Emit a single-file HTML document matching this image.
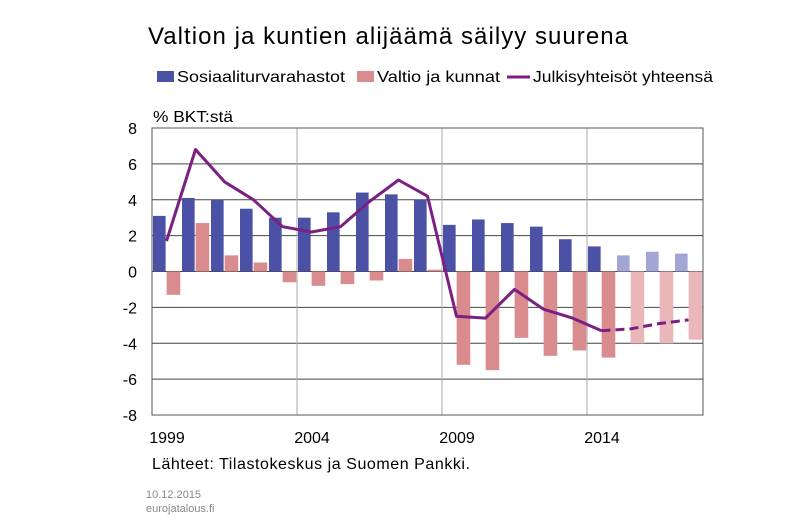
<!DOCTYPE html>
<html><head><meta charset="utf-8"><style>
body{margin:0;background:#fff;font-family:"Liberation Sans",sans-serif}
svg{display:block}
</style></head><body>
<svg id="c" width="800" height="522">
<text x="148" y="44" font-size="24" textLength="480" lengthAdjust="spacing" fill="#000">Valtion ja kuntien alijäämä säilyy suurena</text>
<g>
<rect x="157" y="71" width="17" height="11" fill="#4b52a5"/>
<text x="177" y="82" font-size="16" textLength="168" lengthAdjust="spacingAndGlyphs">Sosiaaliturvarahastot</text>
<rect x="357" y="71" width="17" height="11" fill="#d98b8e"/>
<text x="377" y="82" font-size="16" textLength="123" lengthAdjust="spacingAndGlyphs">Valtio ja kunnat</text>
<line x1="507" y1="77" x2="530" y2="77" stroke="#7b1f82" stroke-width="3"/>
<text x="533" y="82" font-size="16" textLength="180" lengthAdjust="spacingAndGlyphs">Julkisyhteisöt yhteensä</text>
</g>
<text x="153" y="122" font-size="16" textLength="80" lengthAdjust="spacingAndGlyphs">% BKT:stä</text>
<g id="grid"></g><g id="bars"></g><g id="lines"></g><g id="ax"></g>
<text x="152" y="469" font-size="16" textLength="318" lengthAdjust="spacing">Lähteet: Tilastokeskus ja Suomen Pankki.</text>
<text x="146" y="498" font-size="11" fill="#888">10.12.2015</text>
<text x="146" y="512" font-size="11" fill="#888">eurojatalous.fi</text>
</svg>
<script>
const years=[1999,2000,2001,2002,2003,2004,2005,2006,2007,2008,2009,2010,2011,2012,2013,2014,2015,2016,2017];
const sosiaali=[3.1,4.1,4.0,3.5,3.0,3.0,3.3,4.4,4.3,4.0,2.6,2.9,2.7,2.5,1.8,1.4,0.9,1.1,1.0];
const valtio=[-1.3,2.7,0.9,0.5,-0.6,-0.8,-0.7,-0.5,0.7,0.1,-5.2,-5.5,-3.7,-4.7,-4.4,-4.8,-4.0,-4.0,-3.8];
const julkis=[1.7,6.8,5.0,4.0,2.5,2.2,2.5,3.9,5.1,4.2,-2.5,-2.6,-1.0,-2.1,-2.6,-3.3,-3.2,-2.9,-2.7];
const yTicks=[8,6,4,2,0,-2,-4,-6,-8];
const xLabels=[1999,2004,2009,2014];
const forecastStart=2015;
const NS="http://www.w3.org/2000/svg";
const L=152,R=703,T=128,B=415;
const step=(R-L)/years.length;
const x=i=>L+i*step;
const y=v=>T+(8-v)*(B-T)/16;
function mk(tag,attrs,parent){const e=document.createElementNS(NS,tag);for(const k in attrs)e.setAttribute(k,attrs[k]);document.getElementById(parent).appendChild(e);return e;}
yTicks.forEach(v=>{
 const g=mk('line',{x1:L,x2:R,y1:y(v),y2:y(v),stroke:'#444','stroke-width':1},'grid');
 
 
 const t=mk('text',{x:137,y:y(v)+6,'font-size':16,'text-anchor':'end'},'ax');t.textContent=v;
 
 
});
xLabels.forEach(yr=>{
 const i=years.indexOf(yr);
 if(i>0){const g=mk('line',{x1:x(i),x2:x(i),y1:T,y2:B,stroke:'#aaa','stroke-width':1},'grid');
 
 }
 const t=mk('text',{x:x(i)+15,y:443,'font-size':16,'text-anchor':'middle'},'ax');t.textContent=yr;
 
 
});
const fr=mk('rect',{x:L,y:T,width:R-L,height:B-T,fill:'none',stroke:'#555','stroke-width':1},'ax');


years.forEach((yr,i)=>{
 const fc=yr>=forecastStart;
 const bw=step*0.47;
 const b1=mk('rect',{x:x(i)+1,y:Math.min(y(0),y(sosiaali[i])),width:bw-1,height:Math.abs(y(sosiaali[i])-y(0)),fill:fc?'#a3a6d5':'#4b52a5'},'bars');
 
 
 const b2=mk('rect',{x:x(i)+bw+1,y:Math.min(y(0),y(valtio[i])),width:bw,height:Math.abs(y(valtio[i])-y(0)),fill:fc?'#e9b7ba':'#d98b8e'},'bars');
 
 
});
const fi=years.indexOf(forecastStart)-1;
const pt=i=>(x(i)+step/2).toFixed(1)+','+y(julkis[i]).toFixed(1);
let s=[],d=[];
years.forEach((yr,i)=>{if(i<=fi)s.push(pt(i));if(i>=fi)d.push(pt(i));});
const l1=mk('polyline',{points:s.join(' '),fill:'none',stroke:'#7b1f82','stroke-width':3,'stroke-linejoin':'round'},'lines');


const l2=mk('polyline',{points:d.join(' '),fill:'none',stroke:'#7b1f82','stroke-width':3,'stroke-dasharray':'9,5'},'lines');


</script>
</body></html>
